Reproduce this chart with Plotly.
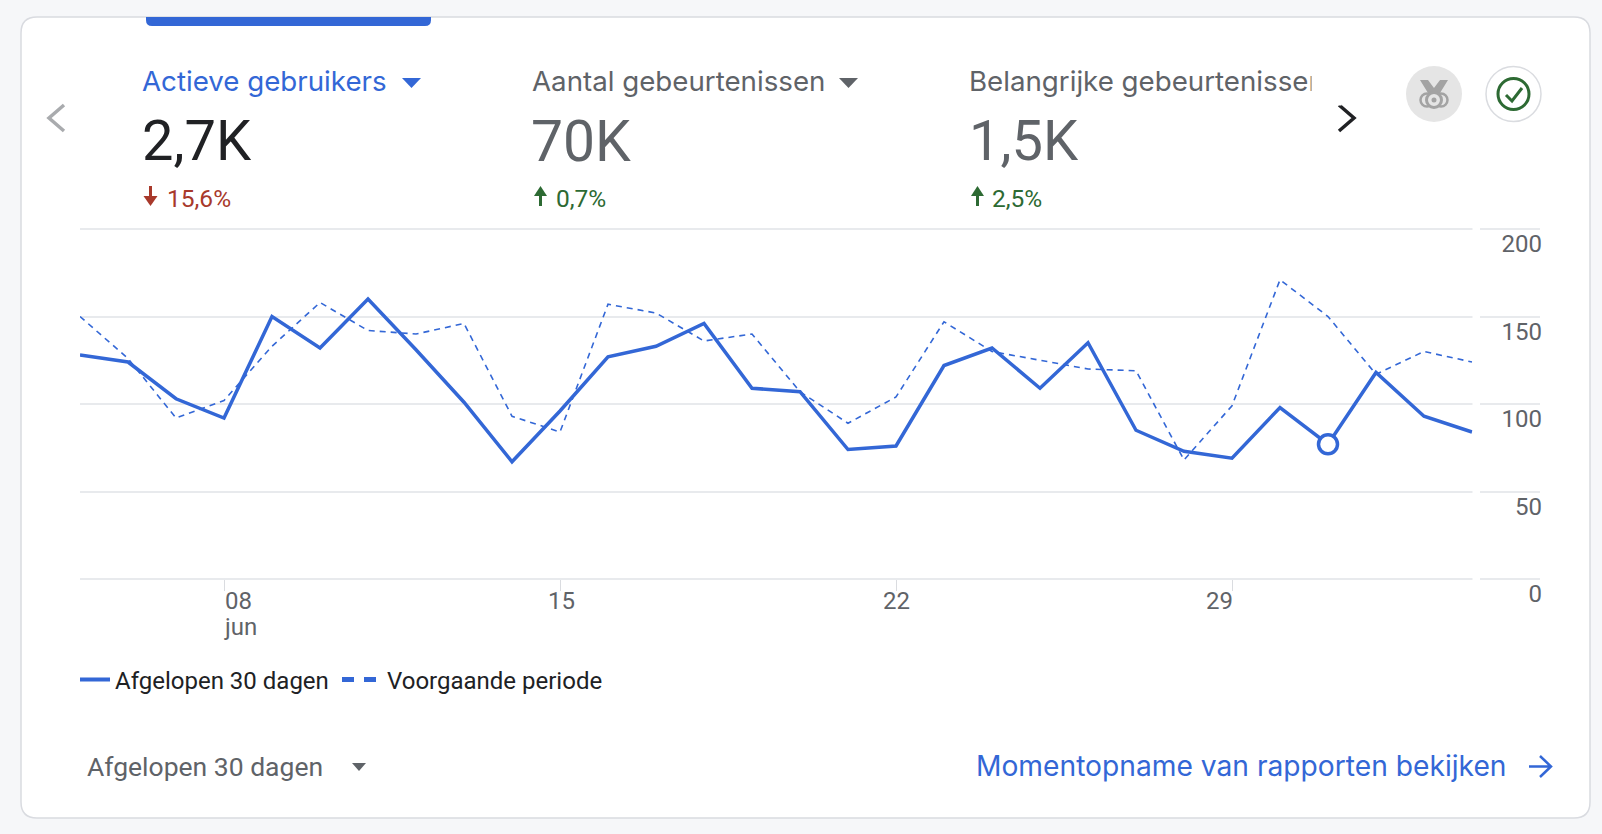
import re
import plotly.graph_objects as go

W, H = 1602, 834

dates = ["2025-06-%02d" % d for d in range(5, 31)] + ["2025-07-%02d" % d for d in range(1, 5)]
huidig = [128, 124, 103, 92, 150, 132, 160, 131, 101, 67, 96, 127, 133, 146, 109,
          107, 74, 76, 122, 132, 109, 135, 85, 73, 69, 98, 77, 118, 93, 84]
vorig = [150, 126, 92, 102, 133, 158, 142, 140, 146, 93, 84, 157, 152, 136, 140,
         107, 89, 104, 147, 130, 125, 120, 119, 68, 99, 171, 150, 117, 130, 124]
x_ticks = ["2025-06-08", "2025-06-15", "2025-06-22", "2025-06-29"]
x_tick_labels = ["08", "15", "22", "29"]
y_ticks = [0, 50, 100, 150, 200]
series_names = ["Afgelopen 30 dagen", "Voorgaande periode"]
highlight_index = 26

BLUE = "#3367d6"
GREY = "#5f6368"
GRID = "#e8eaed"
RED = "#a8392b"
GREEN = "#2d6a33"
MEDAL = "#a3a3a3"
SANS = "Roboto, sans-serif"
HEAD = "Inter, Roboto, sans-serif"


def fx(x):
    return x / W


def fy(y):
    return 1 - y / H


def path(s):
    return re.sub(r"(-?[\d.]+),(-?[\d.]+)",
                  lambda m: f"{fx(float(m[1])):.5f},{fy(float(m[2])):.5f}", s)


shapes = []


def add_path(s, fill="rgba(0,0,0,0)", line=None, width=0, layer="above"):
    shapes.append(dict(type="path", xref="paper", yref="paper", path=path(s), fillcolor=fill,
                       line=dict(color=line or "rgba(0,0,0,0)", width=width), layer=layer))


def add_circle(cx, cy, r, fill="rgba(0,0,0,0)", line=None, width=0, layer="above"):
    shapes.append(dict(type="circle", xref="paper", yref="paper",
                       x0=fx(cx - r), x1=fx(cx + r), y0=fy(cy + r), y1=fy(cy - r), fillcolor=fill,
                       line=dict(color=line or "rgba(0,0,0,0)", width=width), layer=layer))


# card and top tab
add_path("M37,17 L1574,17 Q1590,17 1590,33 L1590,802 Q1590,818 1574,818 L37,818 Q21,818 21,802 "
         "L21,33 Q21,17 37,17 Z", fill="white", line="#d9dbe0", width=1.5, layer="below")
add_path("M146,17 L431,17 L431,20 Q431,26 425,26 L152,26 Q146,26 146,20 Z", fill=BLUE)

# gap in gridlines before the axis labels
shapes.append(dict(type="rect", xref="paper", yref="paper", x0=fx(1472.5), x1=fx(1480),
                   y0=fy(585), y1=fy(222), fillcolor="white", line=dict(width=0), layer="above"))

# chevrons and carets
add_path("M64,105 L49,118 L64,131", line="#a9abae", width=3.5)
add_path("M1339,105 L1354,118 L1339,131", line="#202124", width=3.5)
add_path("M402,78 L421,78 L411.5,88 Z", fill=BLUE)
add_path("M839,78 L858,78 L848.5,88 Z", fill=GREY)
add_path("M352,763 L366,763 L359,771 Z", fill=GREY)

# delta arrows
add_path("M150.5,186 L150.5,203", line=RED, width=3)
add_path("M143.5,196 L157.5,196 L150.5,206 Z", fill=RED)
add_path("M540.5,206 L540.5,189", line=GREEN, width=3)
add_path("M534,196 L547,196 L540.5,186 Z", fill=GREEN)
add_path("M977.5,206 L977.5,189", line=GREEN, width=3)
add_path("M971,196 L984,196 L977.5,186 Z", fill=GREEN)

# link arrow
add_path("M1529,766.5 L1551,766.5 M1540,756 L1551,766.5 L1540,777", line=BLUE, width=2.5)

# medal button
add_circle(1434, 94, 28, fill="#e5e5e5")
add_path("M1420,80 L1428,80 L1434,88 L1440,80 L1448,80 L1440,93 L1428,93 Z", fill=MEDAL)
add_circle(1427, 100, 6.5, line=MEDAL, width=2.5)
add_circle(1441, 100, 6.5, line=MEDAL, width=2.5)
add_circle(1434, 100, 7.5, fill="#e5e5e5", line=MEDAL, width=3)
add_circle(1434, 100, 2.5, fill=MEDAL)

# check button
add_circle(1513.5, 94, 27.5, fill="white", line="#dadce0", width=1.5)
add_circle(1513.5, 94, 15.5, line=GREEN, width=3)
add_path("M1506,95 L1512,101 L1522,88", line=GREEN, width=3)


def txt(x, y, text, size, color, anchor="left", family=SANS):
    return dict(xref="paper", yref="paper", x=fx(x), y=fy(y), text=text, showarrow=False,
                xanchor=anchor, yanchor="middle",
                font=dict(family=family, size=size, color=color))


annotations = [
    txt(140, 81, "Actieve gebruikers", 27.7, BLUE, family=HEAD),
    txt(530, 81, "Aantal gebeurtenissen", 27.7, GREY, family=HEAD),
    txt(967, 81, "Belangrijke gebeurtenissen", 27.7, GREY, family=HEAD),
    dict(xref="paper", yref="paper", x=fx(1311), y=fy(82), xanchor="left", yanchor="middle",
         text=" ", showarrow=False, width=27, height=44, bgcolor="white", font=dict(size=10)),
    txt(140, 141, "2,7K", 56, "#202124"),
    txt(529, 141, "70K", 57, GREY),
    txt(967, 141, "1,5K", 56, GREY),
    txt(165, 199, "15,6%", 24.5, RED),
    txt(554, 199, "0,7%", 24.5, GREEN),
    txt(990, 199, "2,5%", 24.5, GREEN),
    txt(85, 766, "Afgelopen 30 dagen", 26.5, GREY),
    txt(974, 766, "Momentopname van rapporten bekijken", 28.2, BLUE, family=HEAD),
]

anchors = ["left", "center", "center", "right"]
shifts = [-1, 1, 0, 3]
for t, lab, a, s in zip(x_ticks, x_tick_labels, anchors, shifts):
    annotations.append(dict(xref="x", yref="paper", x=t, y=fy(601), text=lab, showarrow=False,
                            xanchor=a, yanchor="middle", xshift=s,
                            font=dict(family=SANS, size=24, color=GREY)))
annotations.append(dict(xref="x", yref="paper", x=x_ticks[0], y=fy(627), text="jun", showarrow=False,
                        xanchor="left", yanchor="middle", xshift=-2,
                        font=dict(family=SANS, size=24, color=GREY)))

fig = go.Figure()
fig.add_trace(go.Scatter(x=dates, y=vorig, mode="lines", showlegend=False,
                         line=dict(color=BLUE, width=1.6, dash="6px,5px")))
fig.add_trace(go.Scatter(x=dates, y=huidig, mode="lines", showlegend=False,
                         line=dict(color=BLUE, width=3.5)))
fig.add_trace(go.Scatter(x=[dates[highlight_index]], y=[huidig[highlight_index]], mode="markers",
                         showlegend=False,
                         marker=dict(size=19, color="white", line=dict(color=BLUE, width=3.5))))
fig.add_trace(go.Scatter(x=[None], y=[None], mode="lines", name=series_names[0], legend="legend",
                         line=dict(color=BLUE, width=4)))
fig.add_trace(go.Scatter(x=[None], y=[None], mode="lines", name="\u00a0" + series_names[1],
                         legend="legend2", line=dict(color=BLUE, width=5, dash="12px,10px")))

legend_font = dict(family=SANS, size=24, color="#202124")
y_lo, y_hi = -18, 201
fig.update_layout(
    width=W, height=H, margin=dict(l=0, r=0, t=0, b=0, pad=0),
    paper_bgcolor="#f6f7f9", plot_bgcolor="rgba(0,0,0,0)",
    shapes=shapes, annotations=annotations,
    showlegend=True,
    legend=dict(orientation="h", x=fx(75), y=fy(680), xanchor="left", yanchor="middle",
                bgcolor="rgba(0,0,0,0)", font=legend_font, itemwidth=30),
    legend2=dict(orientation="h", x=fx(337), y=fy(680), xanchor="left", yanchor="middle",
                 bgcolor="rgba(0,0,0,0)", font=legend_font, itemwidth=34),
    xaxis=dict(domain=[fx(80), fx(1540)], type="date",
               range=["2025-06-05", "2025-07-05 10:00"],
               tickvals=x_ticks, showticklabels=False, showgrid=False, zeroline=False,
               ticks="outside", ticklen=11, tickcolor="#dadce0", tickwidth=1,
               showline=False, automargin=False, anchor="free", position=fy(579)),
    yaxis=dict(domain=[fy(579 - y_lo * 1.75), fy(579 - y_hi * 1.75)], range=[y_lo, y_hi], side="right",
               tickvals=y_ticks, ticktext=[str(v) for v in y_ticks],
               ticklabelposition="inside", ticklabelshift=15, ticklabelstandoff=-5, ticks="",
               tickfont=dict(family=SANS, size=24, color=GREY),
               showgrid=True, gridcolor=GRID, gridwidth=2, zeroline=False,
               showline=False, automargin=False, anchor="x"),
    hovermode=False,
)

fig.write_html("out.html", config={"displayModeBar": False},
               post_script="document.body.style.margin='0';document.body.style.overflow='hidden';")
